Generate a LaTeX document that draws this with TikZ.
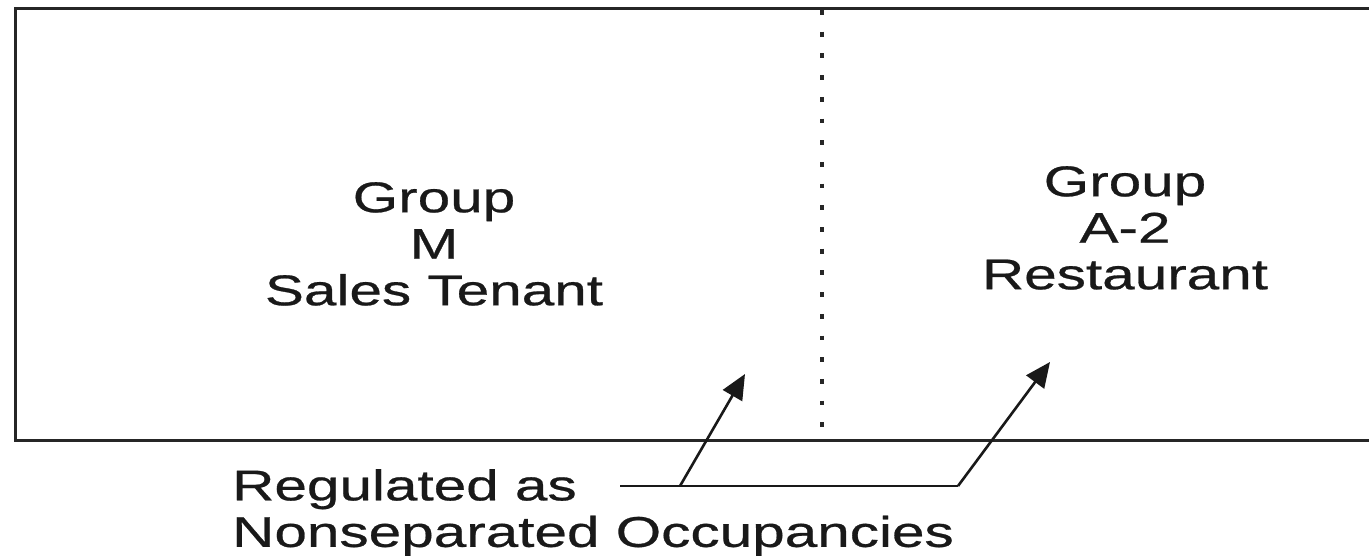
\documentclass[tikz,border=0pt]{standalone}
\usepackage{fontspec}
\newfontfamily\widesans[FakeStretch=1.36,FakeBold=0.6]{Liberation Sans}
\usetikzlibrary{arrows.meta}
\begin{document}
\begin{tikzpicture}[x=1pt,y=-1pt,
  label/.style={inner sep=0pt, font={\widesans\fontsize{43}{46.5}\selectfont}, text=black!90},
  wall/.style={line width=3pt, draw=black!85},
  lead/.style={line width=2.6pt, draw=black!90},
  pointer/.style={lead, -{Triangle[length=25pt,width=22pt]}},
  divider/.style={line width=4.2pt, draw=black!85, dash pattern=on 4.8pt off 16.9pt}]
\useasboundingbox (0,0) rectangle (1369,555);
% outer walls (right side runs off the picture)
\draw[wall] (1375,8) -- (15,8) -- (15,440) -- (1375,440);
% dotted separation line
\draw[divider] (822,10) -- (822,440);
% texts
\node[label, align=center, anchor=north] (gm) at (434,182) {Group\\M\\Sales Tenant};
\node[label, align=center, anchor=north] (ga) at (1125,166) {Group\\A-2\\Restaurant};
\node[label, align=left, anchor=north west] (reg) at (232,469) {Regulated as\\Nonseparated Occupancies};
% connectors
\coordinate (s) at (620,486);
\coordinate (j1) at (680,486);
\coordinate (j2) at (958,486);
\coordinate (t1) at (745,374);
\coordinate (t2) at (1050,362);
\draw[lead] (s) -- (j2);
\draw[pointer] (j1) -- (t1);
\draw[pointer] (j2) -- (t2);
\end{tikzpicture}
\end{document}
